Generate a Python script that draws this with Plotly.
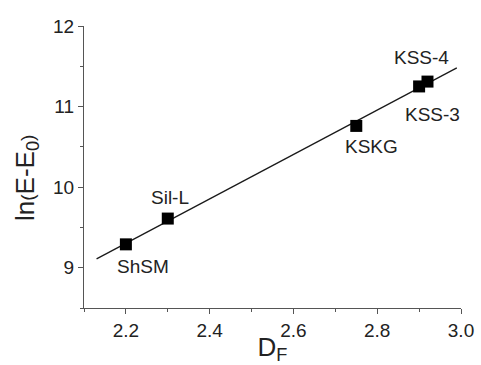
import numpy as np
import plotly.graph_objects as go

# Samples: fractal dimension D_F vs ln(E - E0)
samples = ["ShSM", "Sil-L", "KSKG", "KSS-3", "KSS-4"]
d_f = [2.20, 2.30, 2.75, 2.90, 2.92]
ln_e = [9.29, 9.61, 10.76, 11.25, 11.31]

# label offsets (pixels) from each marker
label_dx = [17, 2, 15, 13, -6]
label_dy = [-22, 21, -21, -28, 24]

# linear fit through the samples
slope, intercept = np.polyfit(d_f, ln_e, 1)
fit_x = np.array([2.13, 2.99])
fit_y = slope * fit_x + intercept

font = "Liberation Sans, Arial, sans-serif"
text_col = "#222222"

fig = go.Figure()
fig.add_trace(go.Scatter(x=fit_x, y=fit_y, mode="lines",
                         line=dict(color="#1a1a1a", width=1.3),
                         hoverinfo="skip", showlegend=False))
fig.add_trace(go.Scatter(x=d_f, y=ln_e, mode="markers",
                         marker=dict(symbol="square", size=12, color="black"),
                         showlegend=False))

for name, x, y, dx, dy in zip(samples, d_f, ln_e, label_dx, label_dy):
    fig.add_annotation(x=x, y=y, text=name, showarrow=False,
                       xshift=dx, yshift=dy,
                       font=dict(family=font, size=19, color=text_col))

# y-axis title, rotated, placed left of the tick labels
fig.add_annotation(xref="paper", yref="paper", x=0, y=0.5,
                   xshift=-58, yshift=-11, textangle=-90, showarrow=False,
                   xanchor="center", yanchor="middle",
                   text="ln<span style='font-size:19px'>(</span>E-E<sub>0</sub><span style='font-size:19px'>)</span>",
                   font=dict(family=font, size=26, color=text_col))

axis_common = dict(
    showline=True, linecolor="#555555", linewidth=1.2,
    ticks="outside", ticklen=5, tickwidth=1.2, tickcolor="#555555",
    showgrid=False, zeroline=False, mirror=False, automargin=False,
    tickfont=dict(family=font, size=19, color=text_col),
)

fig.update_xaxes(range=[2.1, 3.0], tickvals=[2.2, 2.4, 2.6, 2.8, 3.0],
                 ticktext=["2.2", "2.4", "2.6", "2.8", "3.0"],
                 minor=dict(ticks="outside", ticklen=3, tickcolor="#555555",
                            dtick=0.1, tick0=2.1),
                 title=dict(text="D<sub>F</sub>", standoff=2,
                            font=dict(family=font, size=26, color=text_col)),
                 **axis_common)
fig.update_yaxes(range=[8.5, 12], tickvals=[9, 10, 11, 12],
                 minor=dict(ticks="outside", ticklen=3, tickcolor="#555555",
                            dtick=0.5, tick0=8.5),
                 **axis_common)

fig.update_layout(width=481, height=365,
                  margin=dict(l=84, r=20, t=26, b=57),
                  plot_bgcolor="white", paper_bgcolor="white")

fig.write_html("out.html")
